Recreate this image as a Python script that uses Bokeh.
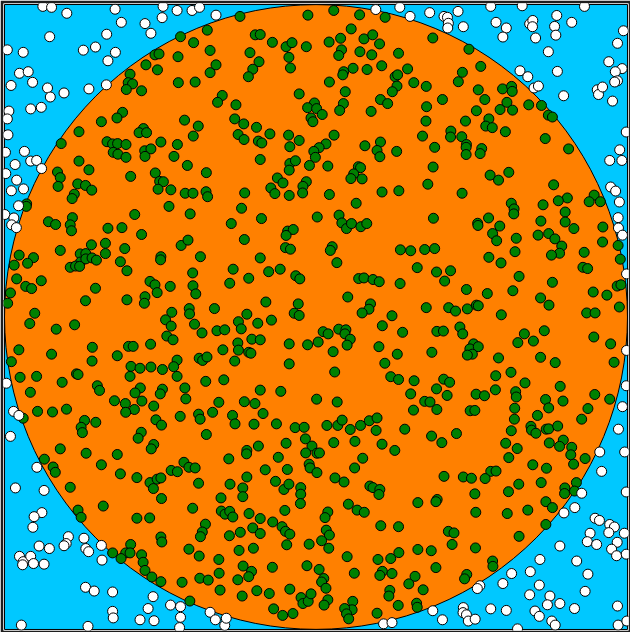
from bokeh.plotting import figure
from bokeh.models import Range1d
from bokeh.embed import file_html
from bokeh.resources import INLINE

# Monte Carlo samples in the square [-1, 1] x [-1, 1]
outside_x = [-0.877,-0.849,-0.800,-0.645,-0.625,-0.672,-0.855,-0.747,-0.708,-0.644,-0.668,-0.940,-0.991,-0.952,-0.924,-0.910,-0.979,-0.862,-0.809,-0.853,-0.729,-0.673,-0.882,-0.916,-0.986,-0.991,-0.989,-0.997,-0.936,-0.549,-0.530,-0.491,-0.494,-0.446,-0.398,-0.374,
 -0.321,0.192,0.269,0.302,
 0.365,0.411,0.422,0.425,0.423,0.456,0.473,0.561,0.662,0.578,0.611,0.600,0.686,0.696,0.695,0.705,0.773,0.766,0.770,0.821,0.862,0.746,0.987,0.968,0.940,0.983,0.961,0.968,0.959,0.903,0.907,0.920,0.952,0.775,0.655,0.680,0.700,0.714,0.795,0.996,0.975,
 -0.966,-0.916,-0.897,-0.881,-0.996,-0.961,-0.978,-0.939,-0.955,-0.999,-0.970,-0.977,-0.962,
 0.943,0.982,0.946,0.962,0.974,0.970,0.971,0.984,0.997,
 -0.994,-0.971,-0.954,-0.981,-0.896,
 0.997,0.996,0.984,0.971,0.911,0.991,0.917,
 -0.965,-0.873,-0.880,-0.905,-0.909,-0.795,-0.802,-0.809,-0.745,-0.889,-0.856,-0.739,-0.730,-0.689,-0.952,-0.940,-0.942,-0.916,-0.907,-0.873,-0.687,-0.740,-0.712,-0.653,-0.523,-0.467,-0.435,-0.539,-0.653,-0.651,-0.565,-0.520,-0.435,-0.438,-0.946,-0.732,-0.340,
 -0.323,-0.293,-0.288,0.217,0.244,
 0.853,0.996,0.831,0.796,0.896,0.910,0.943,0.958,0.940,0.880,0.990,0.871,0.901,0.967,0.783,0.949,0.965,0.996,0.719,0.837,0.628,0.688,0.873,0.600,0.717,0.526,0.518,0.864,0.686,0.751,0.743,0.783,0.830,0.968,0.561,0.611,0.473,0.472,0.483,0.489,0.511,0.375,0.406,0.703,0.717,0.757,0.768,0.647,0.970,0.998]
outside_y = [0.994,0.991,0.972,0.985,0.943,0.905,0.897,0.854,0.864,0.847,0.820,0.847,0.855,0.780,0.785,0.751,0.741,0.733,0.717,0.704,0.730,0.743,0.671,0.666,0.659,0.634,0.583,0.527,0.530,0.939,0.908,0.994,0.958,0.981,0.981,0.991,
 0.966,0.984,0.991,0.962,
 0.974,0.962,0.959,0.940,0.925,0.978,0.929,0.994,0.996,0.943,0.925,0.896,0.938,0.949,0.929,0.893,0.965,0.930,0.902,0.943,0.994,0.849,0.916,0.876,0.817,0.795,0.785,0.756,0.752,0.727,0.712,0.736,0.691,0.786,0.788,0.769,0.733,0.739,0.708,0.592,0.535,
 0.488,0.499,0.501,0.475,0.459,0.438,0.404,0.410,0.356,0.328,0.317,0.295,0.286,
 0.501,0.501,0.416,0.403,0.368,0.318,0.285,0.262,0.138,
 -0.212,-0.302,-0.315,-0.382,-0.481,
 -0.107,-0.220,-0.287,-0.359,-0.432,-0.432,-0.494,
 -0.547,-0.555,-0.626,-0.639,-0.673,-0.703,-0.725,-0.732,-0.708,-0.733,-0.741,-0.741,-0.751,-0.731,-0.766,-0.783,-0.793,-0.766,-0.789,-0.791,-0.778,-0.865,-0.877,-0.880,-0.895,-0.922,-0.927,-0.933,-0.942,-0.963,-0.969,-0.972,-0.961,-0.994,-0.986,-0.990,-0.945,
 -0.969,-0.987,-0.964,-0.982,-0.978,
 -0.564,-0.560,-0.610,-0.627,-0.644,-0.651,-0.664,-0.672,-0.690,-0.692,-0.692,-0.719,-0.728,-0.721,-0.733,-0.743,-0.764,-0.759,-0.776,-0.781,-0.821,-0.815,-0.823,-0.853,-0.858,-0.860,-0.869,-0.878,-0.889,-0.893,-0.921,-0.917,-0.933,-0.925,-0.934,-0.939,-0.930,-0.946,-0.953,-0.973,-0.967,-0.940,-0.969,-0.941,-0.958,-0.973,-0.986,-0.998,-0.986,-0.973]

inside_x = [-0.349,-0.340,-0.340,-0.435,-0.393,-0.517,-0.504,-0.443,-0.546,-0.509,-0.597,-0.603,-0.589,-0.609,-0.560,-0.442,-0.388,-0.621,-0.639,-0.689,-0.761,-0.422,-0.378,-0.394,-0.554,-0.568,-0.544,-0.818,-0.671,-0.653,-0.637,-0.610,-0.498,-0.445,-0.550,-0.530,-0.651,-0.636,-0.610,-0.549,-0.456,
 -0.244,-0.026,0.057,0.140,0.222,-0.195,-0.179,-0.140,-0.096,-0.077,-0.031,0.042,0.079,0.113,0.154,0.182,0.204,-0.212,-0.321,-0.183,-0.203,-0.217,-0.087,-0.082,0.082,0.073,0.141,0.179,0.265,0.119,0.164,0.089,0.086,0.211,0.294,0.254,0.262,0.314,0.260,0.245,0.043,-0.054,-0.301,-0.316,-0.257,0.094,0.207,0.230,-0.005,-0.027,0.002,0.020,-0.016,-0.010,0.088,0.076,0.177,-0.261,-0.232,-0.191,-0.250,-0.231,-0.148,-0.185,-0.174,-0.088,-0.054,-0.084,0.058,0.032,0.010,-0.007,0.157,0.207,0.196,0.259,0.205,-0.002,
 0.375,0.491,0.529,0.470,0.457,0.354,0.521,0.599,0.628,0.630,0.406,0.542,0.613,0.355,0.515,0.591,0.631,0.683,0.724,0.746,0.759,0.353,0.480,0.555,0.545,0.566,0.608,0.342,0.433,0.432,0.468,0.483,0.482,0.532,0.381,0.736,0.811,0.482,0.527,
 -0.929,-0.930,-0.761,-0.830,-0.821,-0.828,-0.729,-0.765,-0.740,-0.720,-0.776,-0.783,-0.595,-0.516,-0.502,-0.490,-0.507,-0.466,-0.413,-0.352,-0.420,-0.395,-0.353,-0.348,-0.472,-0.404,-0.582,-0.859,-0.836,-0.782,-0.789,-0.785,-0.668,-0.623,-0.560,-0.676,-0.721,-0.614,-0.676,-0.821,-0.953,-0.907,-0.969,-0.926,-0.757,-0.739,-0.756,-0.739,-0.719,-0.705,-0.789,-0.772,-0.759,-0.628,-0.607,-0.498,-0.499,-0.433,-0.411,-0.371,-0.396,-0.961,-0.882,-0.932,-0.913,-0.981,-0.990,-0.903,-0.740,-0.708,-0.607,-0.533,-0.517,-0.510,-0.468,-0.549,-0.551,-0.395,-0.386,-0.407,-0.406,-0.463,
 -0.179,-0.084,-0.066,-0.086,-0.021,0.038,0.136,0.143,0.121,0.112,0.148,-0.124,-0.106,-0.145,-0.132,-0.031,-0.042,-0.043,-0.086,-0.229,0.043,0.212,0.266,0.129,-0.239,-0.175,-0.272,0.004,0.074,0.083,0.098,0.114,0.144,0.163,-0.091,-0.073,-0.096,-0.230,-0.098,-0.082,0.052,0.046,0.271,0.304,-0.179,0.067,0.325,-0.266,-0.152,-0.115,-0.216,-0.277,-0.065,-0.052,0.137,0.154,0.183,0.203,0.270,0.102,-0.326,-0.161,-0.057,-0.222,-0.070,-0.054,0.175,0.170,0.148,0.244,
 0.376,0.359,0.469,0.559,0.586,0.619,0.763,0.893,0.877,0.913,0.807,0.778,0.729,0.627,0.636,0.635,0.800,0.800,0.828,0.377,0.554,0.519,0.520,0.590,0.722,0.921,0.567,0.580,0.643,0.713,0.747,0.767,0.920,0.970,0.349,0.381,0.789,0.782,0.756,0.639,0.861,0.555,0.594,0.977,0.387,0.432,0.413,0.857,0.872,0.652,0.759,0.967,0.979,0.483,0.550,0.632,0.890,0.934,0.721,0.748,0.354,0.426,0.448,0.486,0.515,0.521,0.595,0.869,0.896,0.974,
 -0.919,-0.834,-0.775,-0.954,-0.978,-0.849,-0.718,-0.719,-0.638,-0.602,-0.587,-0.531,-0.483,-0.465,-0.479,-0.459,-0.390,-0.366,-0.446,-0.457,-0.375,-0.364,-0.350,-0.950,-0.897,-0.815,-0.769,-0.764,-0.917,-0.594,-0.565,-0.530,-0.493,-0.597,-0.446,-0.354,-0.702,-0.695,-0.564,-0.581,-0.493,-0.500,-0.421,-0.418,-0.647,-0.612,-0.559,-0.583,-0.611,-0.521,-0.894,-0.940,-0.846,-0.801,-0.743,-0.754,-0.750,-0.707,-0.514,-0.496,-0.436,-0.377,-0.372,-0.352,-0.561,-0.571,-0.521,-0.529,-0.821,-0.738,-0.638,-0.872,-0.844,-0.837,-0.689,-0.628,-0.424,-0.408,-0.388,-0.465,-0.445,
 -0.249,-0.187,-0.143,-0.318,-0.293,-0.240,-0.206,-0.179,-0.251,-0.249,-0.299,-0.216,-0.209,-0.261,-0.086,-0.027,0.007,0.023,0.039,0.073,0.096,0.093,0.110,0.100,0.055,-0.086,0.213,0.278,0.202,0.261,0.221,0.060,-0.296,0.240,0.265,0.315,-0.179,-0.113,0.304,-0.312,-0.230,-0.196,0.002,0.068,-0.332,-0.268,-0.170,0.313,-0.260,-0.199,-0.127,-0.067,-0.038,0.035,0.070,0.084,0.110,0.143,0.171,0.196,0.193,0.285,-0.034,-0.096,-0.013,0.057,0.125,0.212,-0.185,-0.222,-0.223,-0.033,0.003,0.011,0.253,-0.280,-0.121,0.150,-0.022,-0.019,-0.163,-0.092,0.124,0.003,
 0.388,0.409,0.462,0.471,0.506,0.494,0.521,0.502,0.486,0.372,0.586,0.669,0.733,0.648,0.698,0.892,0.946,0.721,0.768,0.957,0.626,0.577,0.410,0.429,0.387,0.671,0.421,0.514,0.541,0.576,0.641,0.643,0.784,0.895,0.943,0.349,0.366,0.388,0.495,0.510,0.638,0.737,0.747,0.793,0.873,0.637,0.711,0.853,0.690,0.692,0.706,0.739,0.747,0.776,0.627,0.371,0.404,0.451,0.609,0.646,0.749,0.794,0.782,0.821,0.818,0.619,0.696,0.740,0.827,0.864,0.561,0.578,
 -0.789,-0.683,-0.764,-0.754,-0.575,-0.534,-0.575,-0.533,-0.522,-0.510,-0.498,-0.496,-0.377,-0.396,-0.355,-0.365,-0.371,-0.498,-0.495,-0.408,-0.375,-0.595,-0.611,-0.597,-0.653,-0.626,-0.560,-0.555,-0.549,-0.527,-0.498,-0.430,-0.373,-0.346,-0.405,
 -0.222,-0.276,-0.235,-0.235,-0.130,-0.103,-0.087,-0.049,-0.049,-0.050,0.061,0.090,0.173,0.183,0.205,0.202,0.327,-0.305,0.104,0.132,0.155,-0.304,-0.292,-0.277,-0.267,-0.215,-0.179,-0.139,-0.100,-0.109,-0.098,-0.084,0.038,0.029,0.033,0.043,0.018,0.208,0.265,-0.243,-0.203,-0.179,-0.278,-0.022,-0.094,0.041,-0.201,-0.247,0.100,0.199,0.240,0.266,0.327,-0.312,-0.234,-0.140,-0.029,0.010,-0.311,-0.207,-0.216,-0.251,0.025,0.018,0.032,0.123,0.213,0.205,0.244,0.318,0.298,-0.308,-0.190,-0.150,-0.084,-0.237,-0.048,-0.042,-0.025,-0.016,0.038,0.026,0.237,0.234,0.118,0.116,0.092,0.098,0.105,0.264,0.323,0.325,-0.136,-0.107,-0.074,0.196,
 0.411,0.473,0.499,0.543,0.651,0.723,0.836,0.830,0.799,0.798,0.618,0.510,0.389,0.385,0.738,0.759,0.680,0.614,0.513,0.738,0.425,0.443,0.652,0.437,0.512,0.370,0.567,0.568,0.385,0.484,0.477,0.344]
inside_y = [0.918,0.853,0.782,0.897,0.878,0.839,0.842,0.833,0.807,0.791,0.777,0.750,0.746,0.728,0.724,0.750,0.752,0.655,0.637,0.625,0.593,0.630,0.611,0.579,0.603,0.590,0.590,0.555,0.561,0.554,0.555,0.552,0.560,0.552,0.532,0.538,0.527,0.521,0.511,0.514,0.514,
 0.962,0.966,0.981,0.967,0.959,0.903,0.904,0.879,0.865,0.878,0.865,0.880,0.892,0.922,0.890,0.903,0.874,0.846,0.807,0.817,0.793,0.769,0.831,0.797,0.855,0.837,0.849,0.839,0.844,0.796,0.792,0.785,0.775,0.804,0.794,0.769,0.775,0.750,0.739,0.721,0.752,0.714,0.709,0.687,0.679,0.721,0.696,0.683,0.685,0.670,0.667,0.648,0.637,0.625,0.683,0.661,0.658,0.634,0.618,0.607,0.584,0.568,0.586,0.563,0.557,0.582,0.565,0.545,0.582,0.554,0.542,0.530,0.548,0.560,0.533,0.530,0.513,0.511,
 0.893,0.857,0.802,0.783,0.753,0.738,0.727,0.730,0.738,0.722,0.696,0.696,0.687,0.673,0.660,0.664,0.662,0.679,0.677,0.646,0.640,0.627,0.627,0.634,0.611,0.606,0.593,0.579,0.595,0.576,0.577,0.552,0.543,0.539,0.543,0.571,0.538,0.520,0.523,
 0.362,0.354,0.499,0.464,0.446,0.418,0.471,0.426,0.421,0.406,0.393,0.379,0.450,0.461,0.434,0.433,0.409,0.407,0.485,0.462,0.396,0.396,0.401,0.385,0.354,0.330,0.328,0.305,0.296,0.318,0.295,0.276,0.284,0.286,0.264,0.236,0.231,0.219,0.203,0.213,0.198,0.190,0.166,0.172,0.202,0.203,0.176,0.186,0.189,0.182,0.159,0.163,0.162,0.177,0.148,0.193,0.183,0.229,0.246,0.193,0.141,0.122,0.116,0.098,0.091,0.077,0.044,0.012,0.052,0.092,0.055,0.114,0.103,0.078,0.098,0.065,0.044,0.100,0.074,0.027,0.010,0.015,
 0.504,0.491,0.500,0.470,0.485,0.483,0.481,0.478,0.458,0.443,0.442,0.445,0.429,0.413,0.395,0.433,0.418,0.397,0.389,0.397,0.392,0.400,0.404,0.364,0.348,0.315,0.299,0.320,0.326,0.301,0.283,0.299,0.289,0.299,0.275,0.280,0.261,0.248,0.222,0.217,0.225,0.213,0.215,0.212,0.189,0.174,0.158,0.153,0.145,0.153,0.124,0.108,0.132,0.122,0.123,0.125,0.120,0.113,0.107,0.064,0.027,0.048,0.042,0.009,0.012,0.005,0.042,0.025,0.013,0.004,
 0.480,0.425,0.396,0.454,0.438,0.463,0.423,0.390,0.369,0.369,0.381,0.372,0.359,0.364,0.346,0.330,0.336,0.304,0.283,0.316,0.317,0.300,0.293,0.291,0.307,0.288,0.267,0.244,0.252,0.262,0.267,0.250,0.240,0.229,0.216,0.219,0.227,0.204,0.198,0.209,0.207,0.191,0.173,0.185,0.144,0.148,0.115,0.159,0.155,0.130,0.111,0.099,0.103,0.088,0.075,0.084,0.080,0.070,0.061,0.038,0.030,0.030,0.019,0.026,0.038,0.036,0.007,0.013,0.013,0.032,
 -0.021,-0.039,-0.025,-0.105,-0.143,-0.119,-0.097,-0.141,-0.124,-0.094,-0.094,-0.087,-0.009,-0.029,-0.061,-0.073,-0.023,-0.051,-0.138,-0.159,-0.132,-0.139,-0.128,-0.193,-0.190,-0.209,-0.182,-0.184,-0.241,-0.158,-0.164,-0.160,-0.168,-0.190,-0.190,-0.206,-0.220,-0.235,-0.227,-0.243,-0.231,-0.246,-0.227,-0.262,-0.268,-0.277,-0.269,-0.296,-0.305,-0.285,-0.302,-0.324,-0.304,-0.295,-0.331,-0.353,-0.370,-0.337,-0.329,-0.346,-0.318,-0.311,-0.327,-0.376,-0.369,-0.388,-0.408,-0.422,-0.422,-0.436,-0.440,-0.455,-0.480,-0.497,-0.473,-0.502,-0.465,-0.481,-0.483,-0.491,-0.495,
 -0.015,-0.020,-0.010,-0.044,-0.041,-0.038,-0.071,-0.073,-0.083,-0.106,-0.105,-0.113,-0.116,-0.141,-0.086,-0.089,-0.080,-0.047,-0.054,-0.039,-0.041,-0.054,-0.071,-0.090,-0.111,-0.150,-0.028,-0.049,-0.095,-0.119,-0.148,-0.176,-0.201,-0.191,-0.200,-0.204,-0.234,-0.238,-0.246,-0.273,-0.271,-0.277,-0.263,-0.272,-0.305,-0.315,-0.309,-0.298,-0.342,-0.343,-0.342,-0.354,-0.353,-0.347,-0.347,-0.330,-0.360,-0.347,-0.332,-0.323,-0.363,-0.359,-0.390,-0.404,-0.413,-0.402,-0.398,-0.407,-0.413,-0.427,-0.438,-0.435,-0.436,-0.435,-0.427,-0.454,-0.449,-0.452,-0.471,-0.483,-0.489,-0.488,-0.483,-0.498,
 -0.046,-0.045,-0.032,-0.054,-0.086,-0.102,-0.095,-0.119,-0.122,-0.113,-0.131,-0.054,-0.044,-0.082,-0.077,-0.064,-0.086,-0.129,-0.146,-0.145,-0.177,-0.188,-0.199,-0.209,-0.230,-0.211,-0.251,-0.247,-0.252,-0.233,-0.239,-0.256,-0.222,-0.248,-0.263,-0.270,-0.272,-0.296,-0.300,-0.299,-0.292,-0.264,-0.291,-0.269,-0.293,-0.327,-0.315,-0.327,-0.350,-0.362,-0.372,-0.359,-0.358,-0.349,-0.364,-0.381,-0.402,-0.373,-0.404,-0.421,-0.403,-0.394,-0.414,-0.417,-0.441,-0.450,-0.473,-0.484,-0.471,-0.453,-0.494,-0.493,
 -0.545,-0.605,-0.618,-0.641,-0.644,-0.643,-0.514,-0.530,-0.549,-0.519,-0.515,-0.581,-0.532,-0.612,-0.663,-0.688,-0.703,-0.704,-0.720,-0.743,-0.765,-0.728,-0.755,-0.755,-0.755,-0.773,-0.761,-0.785,-0.811,-0.832,-0.847,-0.849,-0.836,-0.842,-0.909,
 -0.512,-0.535,-0.547,-0.575,-0.526,-0.552,-0.535,-0.546,-0.567,-0.597,-0.515,-0.528,-0.541,-0.546,-0.552,-0.568,-0.594,-0.579,-0.599,-0.618,-0.625,-0.621,-0.631,-0.622,-0.640,-0.629,-0.645,-0.656,-0.619,-0.671,-0.686,-0.695,-0.624,-0.642,-0.682,-0.698,-0.716,-0.668,-0.671,-0.689,-0.675,-0.693,-0.700,-0.727,-0.729,-0.740,-0.740,-0.747,-0.767,-0.776,-0.773,-0.754,-0.744,-0.776,-0.797,-0.801,-0.796,-0.808,-0.820,-0.814,-0.831,-0.841,-0.837,-0.848,-0.868,-0.820,-0.814,-0.827,-0.821,-0.830,-0.854,-0.874,-0.876,-0.885,-0.871,-0.893,-0.898,-0.917,-0.910,-0.886,-0.905,-0.922,-0.875,-0.893,-0.910,-0.937,-0.933,-0.950,-0.966,-0.923,-0.916,-0.929,-0.934,-0.955,-0.949,-0.948,
 -0.510,-0.512,-0.516,-0.517,-0.535,-0.530,-0.530,-0.557,-0.547,-0.565,-0.559,-0.566,-0.584,-0.591,-0.591,-0.610,-0.618,-0.629,-0.625,-0.664,-0.686,-0.691,-0.702,-0.728,-0.739,-0.748,-0.781,-0.798,-0.802,-0.824,-0.838,-0.873]

assert len(outside_x) == len(outside_y), (len(outside_x), len(outside_y))
assert len(inside_x) == len(inside_y), (len(inside_x), len(inside_y))

p = figure(width=630, height=632, output_backend="svg", toolbar_location=None,
           x_range=Range1d(-1.0033, 1.0033), y_range=Range1d(-1.0033, 1.0033),
           min_border_left=3, min_border_right=2, min_border_top=3, min_border_bottom=2)
p.axis.visible = False
p.grid.visible = False
p.background_fill_color = "white"
p.border_fill_color = "#1e1e1e"
p.outline_line_color = None

# sampling square and unit circle
p.quad(left=-1, right=1, bottom=-1, top=1, fill_color="#00C8FF", line_color="black", line_width=1)
p.ellipse(x=0, y=0, width=2, height=2, fill_color="#FF8000", line_color="black", line_width=1)
p.scatter(inside_x, inside_y, size=10, fill_color="#008000", line_color="black", line_width=1)
p.scatter(outside_x, outside_y, size=10, fill_color="white", line_color="black", line_width=1)

open("out.html", "w").write(file_html(p, INLINE))
